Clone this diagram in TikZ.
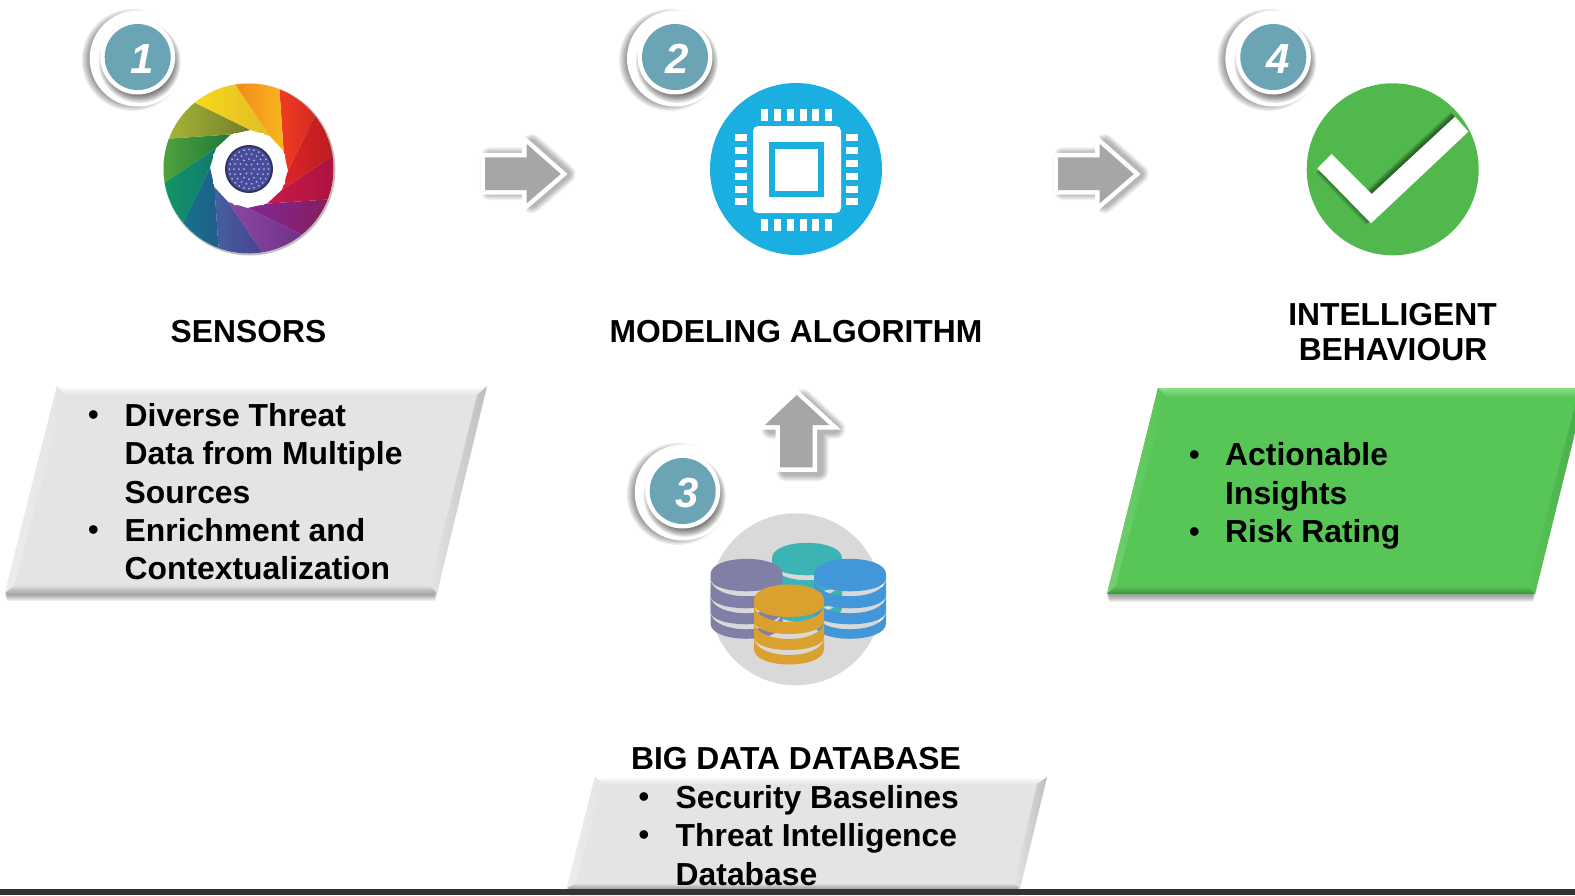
\documentclass[tikz,border=0pt]{standalone}
\usepackage{fontspec}
\setmainfont{Liberation Sans}
\usetikzlibrary{calc}
\definecolor{badgeteal}{HTML}{6BA5B5}
\definecolor{arrowgrey}{HTML}{A6A6A6}
\definecolor{chipblue}{HTML}{1AAFE0}
\definecolor{checkgreen}{HTML}{50B84C}
\definecolor{dbgrey}{HTML}{D9D9D9}
\definecolor{gbfill}{HTML}{E4E4E4}
\definecolor{gbtop}{HTML}{FFFFFF}
\definecolor{gbleft}{HTML}{EDEDED}
\definecolor{gbbot}{HTML}{A8A8A8}
\definecolor{gbright}{HTML}{BEBEBE}
\definecolor{gnfill}{HTML}{58C557}
\definecolor{gntop}{HTML}{8AE088}
\definecolor{gnleft}{HTML}{74CE70}
\definecolor{gnbot}{HTML}{3F913E}
\definecolor{gnright}{HTML}{4AA849}
\tikzset{
  headtext/.style={font={\fontsize{31.8}{35}\selectfont\bfseries},text=black,inner sep=0pt,align=center},
  itemtext/.style={font={\fontsize{31.85}{38.5}\selectfont\bfseries},text=black,inner sep=0pt,align=left,anchor=north west},
  dottext/.style={font={\fontsize{31.7}{38.5}\selectfont},text=black,inner sep=0pt,anchor=base},
  numtext/.style={font={\fontsize{42}{42}\selectfont\bfseries\itshape},text=white,inner sep=0pt,anchor=base},
  softshadow/.style={black,opacity=.04,line join=round},
}
% blurred disc
\newcommand{\softdisc}[5]{%
  \foreach \s in {0,1,...,7}{\fill[black,opacity=#5] (#1,#2) circle[radius={#3+#4*\s/7}];}}
\newcommand{\badge}[5]{% name, cx, cy, num, num-x
  \softdisc{#2-5}{#3+3}{42}{9}{.07}
  \fill[white] (#2,#3+1.5) circle[radius=48];
  \softdisc{#2+2}{#3+5}{33}{8}{.085}
  \fill[white] (#2,#3) circle[radius=37.5];
  \node[circle,fill=badgeteal,minimum size=66pt,inner sep=0pt] (#1) at (#2,#3) {};
  \node[numtext] (#1num) at (#5,#3+16.5) {#4};
}
\newcommand{\parabox}[9]{% colour prefix, outer TL TR BR BL, inner TL TR BR BL
  \foreach \s in {0,1,...,6}{\fill[black,opacity=.06] ($#5+(2,-6)$) -- ($#4+(-2,-6)$) -- ($#4+(-2+\s*.4,8-\s)$) -- ($#5+(2-\s*.4,8-\s)$) -- cycle;}
  \fill[#1fill] #2 -- #3 -- #4 -- #5 -- cycle;
  \shade[top color=#1top,bottom color=#1fill] #2 -- #3 -- #7 -- #6 -- cycle;
  \shade[left color=#1left,right color=#1fill] #2 -- #6 -- #9 -- #5 -- cycle;
  \shade[top color=#1fill,bottom color=#1bot] #5 -- #9 -- #8 -- #4 -- cycle;
  \shade[left color=#1fill,right color=#1right] #3 -- #4 -- #8 -- #7 -- cycle;
  \fill[#1fill] #6 -- #7 -- #8 -- #9 -- cycle;
}
% one band of a database stack: from upper curve (y, control) to lower curve (y, control)
\newcommand{\dbband}[6]{%
  \fill[stackcol] (#1,#3) .. controls (#1,{#3+#4}) and (#2,{#3+#4}) .. (#2,#3) -- (#2,#5) .. controls (#2,{#5+#6}) and (#1,{#5+#6}) .. (#1,#5) -- cycle;}
\newcommand{\dbstack}[6]{% cx, top y, rx, ry, colour, name
  \coordinate (#6) at (#1,#2);
  \definecolor{stackcol}{HTML}{#5}
  \dbband{#1-#3}{#1+#3}{#2}{-1.33*#4}{#2+4}{1.33*(#4-2.5)}
  \dbband{#1-#3}{#1+#3}{#2+4}{1.33*(#4+2.5)}{#2+21}{1.33*(#4-2.5)}
  \dbband{#1-#3}{#1+#3}{#2+21}{1.33*(#4+2.5)}{#2+37}{1.33*(#4-2.5)}
  \dbband{#1-#3}{#1+#3}{#2+37}{1.33*(#4+2.5)}{#2+49}{1.33*#4}
}
\newcommand{\pinblade}[3]{% step, colour A, colour B
  \definecolor{bladeA}{HTML}{#2}\definecolor{bladeB}{HTML}{#3}
  \begin{scope}[shift={(249,169)},rotate=-30*#1]
    \shade[left color=bladeA,right color=bladeB] (34.6,-18) -- (29,-100) -- (90,-100) -- (76.6,-75) -- (39,1.6) -- cycle;
  \end{scope}
}
\begin{document}
\begin{tikzpicture}[x=1pt,y=-1pt]
\useasboundingbox (0,0) rectangle (1575,895);
\fill[white] (0,0) rectangle (1575,895);
\clip (0,0) rectangle (1575,895);

% --- sensor pinwheel ---
\fill[gray!50] (249.5,169.5) circle[radius=86];
\begin{scope}
  \clip (248.5,168.5) circle[radius=85];
  \fill[white] (248.5,168.5) circle[radius=85];
  \pinblade{0}{F23C22}{C41E1E}
  \pinblade{1}{E02428}{9A1616}
  \pinblade{2}{C81A48}{980F3A}
  \pinblade{3}{80289A}{8A1A4A}
  \pinblade{4}{8A48A4}{6A2A80}
  \pinblade{5}{45609F}{4A3A8E}
  \pinblade{6}{0F8090}{205E8A}
  \pinblade{7}{12AC5C}{107A70}
  \pinblade{8}{78BC40}{1A7A3A}
  \pinblade{9}{B4C03A}{707E2A}
  \pinblade{10}{FFE016}{E0BC28}
  \pinblade{11}{F47C20}{F8B81C}
\end{scope}
\fill[white] (285,154.5) -- (263.5,133) -- (234.5,133) -- (213,154.5) -- (213,183.5) -- (234.5,205) -- (263.5,205) -- (285,183.5) -- cycle;
\fill[black!75!blue!60!gray] (249,169) circle[radius=24];
\fill[blue!35!gray!90!black] (249,169) circle[radius=22];
\foreach \r/\n in {5/6,10/12,15/18,19.5/24}{
  \foreach \k in {1,...,\n}{
    \fill[cyan!35!white,opacity=.8] ($(249,169)+({\k*360/\n}:\r)$) circle[radius=1];}}

% --- chip icon ---
\node[circle,fill=chipblue,minimum size=172pt,inner sep=0pt] (chip) at (796,169) {};
\fill[white,rounded corners=5pt] (753,126) rectangle (841,213);
\fill[chipblue] (769,142) rectangle (824,197);
\fill[white] (775,149) rectangle (818,191);
\foreach \p in {761,774,787,800,812,825}{
  \fill[white] (\p,109) rectangle ++(7,12);
  \fill[white] (\p,219) rectangle ++(7,12);}
\foreach \p in {134,147,160,173,186,198}{
  \fill[white] (735,\p) rectangle ++(12,7);
  \fill[white] (846,\p) rectangle ++(12,7);}

% --- check icon ---
\node[circle,fill=checkgreen,minimum size=172pt,inner sep=0pt] (check) at (1392.7,169.3) {};
\begin{scope}
  \clip (1392.7,169.3) circle[radius=86];
  \foreach \s in {1,2,...,7}{
    \draw[black,opacity=.08,line width=\s*1.5pt] (1371,193) -- (1454,116);
    \draw[black,opacity=.05,line width=\s*1.3pt] (1319,170) -- (1369,222);}
\end{scope}
\fill[white] (1317.3,168.3) -- (1331.7,154) -- (1371.7,194) -- (1455,116.7) -- (1468.3,131.7) -- (1371,223.3) -- cycle;

% --- database icon ---
\node[circle,fill=dbgrey,minimum size=172pt,inner sep=0pt] (dbdisc) at (795.7,599.3) {};
\dbstack{807}{558.3}{35}{15.5}{3DB4B4}{dbteal}
\dbstack{746.5}{574.3}{36}{15.5}{7F7FA8}{dbpurple}
\dbstack{850}{574.3}{36}{15.5}{4197D8}{dbblue}
\dbstack{789}{600}{35}{15.5}{DBA12E}{dbgold}

% --- block arrows ---
\foreach \dx in {0,573}{
  \foreach \s in {0,1,...,7}{
    \draw[softshadow,line width=\s*1.6pt+9pt,shift={(\dx+5,0)}] (485,157.3) -- (526.7,157.3) -- (526.7,144) -- (560.7,174) -- (526.7,203.3) -- (526.7,190) -- (485,190) -- cycle;}
  \draw[white,line width=9pt,miter limit=6,fill=white,shift={(\dx,0)}] (485,157.3) -- (526.7,157.3) -- (526.7,144) -- (560.7,174) -- (526.7,203.3) -- (526.7,190) -- (485,190) -- cycle;
  \fill[arrowgrey,shift={(\dx,0)}] (485,157.3) -- (526.7,157.3) -- (526.7,144) -- (560.7,174) -- (526.7,203.3) -- (526.7,190) -- (485,190) -- cycle;
}
\foreach \s in {0,1,...,7}{
  \draw[softshadow,line width=\s*1.6pt+9pt,shift={(6,4)}] (796.7,395) -- (829.3,425) -- (812.7,425) -- (812.7,467.3) -- (780,467.3) -- (780,425) -- (765,425) -- cycle;}
\draw[white,line width=9pt,miter limit=6,fill=white] (796.7,395) -- (829.3,425) -- (812.7,425) -- (812.7,467.3) -- (780,467.3) -- (780,425) -- (765,425) -- cycle;
\fill[arrowgrey] (796.7,395) -- (829.3,425) -- (812.7,425) -- (812.7,467.3) -- (780,467.3) -- (780,425) -- (765,425) -- cycle;

% --- badges ---
\badge{badgeone}{137.7}{57}{1}{141.7}
\badge{badgetwo}{675}{57}{2}{677}
\badge{badgethree}{682.7}{491}{3}{686.7}
\badge{badgefour}{1273.3}{57}{4}{1277.7}

% --- panels ---
\parabox{gb}{(57,386)}{(487,386)}{(437,593)}{(5,593)}{(65,395)}{(477,395)}{(430,585)}{(15,585)}
\parabox{gn}{(1158,388)}{(1586,388)}{(1535,594)}{(1107,594)}{(1166,397)}{(1577,397)}{(1528,586)}{(1116,586)}
\parabox{gb}{(595,777)}{(1047,777)}{(1020,888)}{(567,888)}{(603,784)}{(1037,784)}{(1014,883)}{(576,883)}

% --- bottom bar ---
\fill[black!80] (0,889) rectangle (1575,895);

% --- headings ---
\node[headtext,anchor=base] (sensors) at (248.5,342.5) {SENSORS};
\node[headtext,anchor=base] (modeling) at (796,342.5) {MODELING ALGORITHM};
\node[headtext,anchor=base] (intelligent) at (1392.5,325.5) {INTELLIGENT};
\node[headtext,anchor=base] (behaviour) at (1393,360) {BEHAVIOUR};
\node[headtext,anchor=base] (bigdata) at (796,769) {BIG DATA DATABASE};

% --- bullet texts ---
\node[dottext] (d1) at (93.5,425.5) {•};
\node[itemtext] (t1) at (124.5,402) {\rule{0pt}{24pt}Diverse Threat\\Data from Multiple\\Sources};
\node[dottext] (d2) at (93.5,540.5) {•};
\node[itemtext] (t2) at (124.5,517) {\rule{0pt}{24pt}Enrichment and\\Contextualization};
\node[dottext] (d3) at (644,807) {•};
\node[itemtext] (t3) at (675.5,784.5) {\rule{0pt}{24pt}Security Baselines};
\node[dottext] (d4) at (644,845.5) {•};
\node[itemtext] (t4) at (675.5,822) {\rule{0pt}{24pt}Threat Intelligence\\[0.7pt]Database};
\node[dottext] (d5) at (1194.5,465) {•};
\node[itemtext] (t5) at (1225,441) {\rule{0pt}{24pt}Actionable\\[1pt]Insights};
\node[dottext] (d6) at (1194.5,542.5) {•};
\node[itemtext] (t6) at (1225,518.5) {\rule{0pt}{24pt}Risk Rating};
\end{tikzpicture}
\end{document}
